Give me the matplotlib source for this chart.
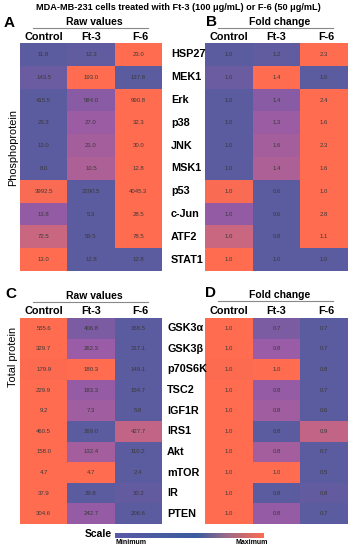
import matplotlib
matplotlib.use('Agg')
import matplotlib.pyplot as plt
import numpy as np
from matplotlib.colors import LinearSegmentedColormap

plt.rcParams['font.family'] = ['Liberation Sans', 'DejaVu Sans']

columns = ['Control', 'Ft-3', 'F-6']

phospho_labels = ['HSP27', 'MEK1', 'Erk', 'p38', 'JNK', 'MSK1', 'p53', 'c-Jun', 'ATF2', 'STAT1']
phospho_raw = [
    [11.8, 12.3, 23.0],
    [143.5, 193.0, 137.8],
    [415.5, 584.0, 990.8],
    [23.3, 27.0, 32.3],
    [13.0, 21.0, 30.0],
    [8.0, 10.5, 12.8],
    [3992.5, 2290.5, 4045.3],
    [13.8, 5.3, 28.5],
    [72.5, 59.5, 78.5],
    [13.0, 12.8, 12.8],
]
phospho_fold = [
    [1.0, 1.2, 2.3],
    [1.0, 1.4, 1.0],
    [1.0, 1.4, 2.4],
    [1.0, 1.3, 1.6],
    [1.0, 1.6, 2.3],
    [1.0, 1.4, 1.6],
    [1.0, 0.6, 1.0],
    [1.0, 0.6, 2.8],
    [1.0, 0.8, 1.1],
    [1.0, 1.0, 1.0],
]

total_labels = ['GSK3α', 'GSK3β', 'p70S6K', 'TSC2', 'IGF1R', 'IRS1', 'Akt', 'mTOR', 'IR', 'PTEN']
total_raw = [
    [555.6, 406.8, 368.5],
    [329.7, 262.3, 217.1],
    [179.9, 180.3, 149.1],
    [229.9, 183.3, 154.7],
    [9.2, 7.3, 5.8],
    [460.5, 369.0, 427.7],
    [158.0, 132.4, 110.2],
    [4.7, 4.7, 2.4],
    [37.9, 29.8, 30.2],
    [304.6, 242.7, 206.6],
]
total_fold = [
    [1.0, 0.7, 0.7],
    [1.0, 0.8, 0.7],
    [1.0, 1.0, 0.8],
    [1.0, 0.8, 0.7],
    [1.0, 0.8, 0.6],
    [1.0, 0.8, 0.9],
    [1.0, 0.8, 0.7],
    [1.0, 1.0, 0.5],
    [1.0, 0.8, 0.8],
    [1.0, 0.8, 0.7],
]

W, H = 350, 550
cell_cmap = LinearSegmentedColormap.from_list(
    'cells', [(0, '#5b5b9f'), (0.4, '#9a5ca6'), (0.68, '#c86681'), (1, '#ff6c4f')])
scale_cmap = LinearSegmentedColormap.from_list(
    'scale', [(0, '#5a5aa6'), (0.55, '#3a5c9e'), (0.75, '#9a6a8a'), (1, '#ff6c4f')])

fig = plt.figure(figsize=(W / 100, H / 100), dpi=100)


def px_axes(x0, y0, x1, y1):
    return fig.add_axes([x0 / W, 1 - y1 / H, (x1 - x0) / W, (y1 - y0) / H])


def ftext(x, y, s, **kw):
    fig.text(x / W, 1 - y / H, s, **kw)


def row_norm(raw):
    a = np.array(raw)
    lo = a.min(axis=1, keepdims=True)
    hi = a.max(axis=1, keepdims=True)
    return (a - lo) / np.where(hi > lo, hi - lo, 1)


def heatmap(box, raw, shown):
    ax = px_axes(*box)
    ax.imshow(row_norm(raw), cmap=cell_cmap, vmin=0, vmax=1, aspect='auto',
              interpolation='nearest')
    for i, row in enumerate(shown):
        for j, v in enumerate(row):
            ax.text(j, i, f'{v:.1f}', ha='center', va='center', fontsize=4.3,
                    color='#3a3a3a')
    ax.set_axis_off()
    return ax


def header(x0, x1, y_title, title, letter, lx, ly):
    ftext(lx, ly, letter, fontsize=11, fontweight='bold', ha='left', va='center')
    ftext((x0 + x1) / 2 + 4, y_title, title, fontsize=7.5, fontweight='bold',
          ha='center', va='center')
    fig.add_artist(plt.Line2D([x0 / W, x1 / W], [1 - (y_title + 6) / H] * 2,
                              color='#888888', lw=0.8))


top = (43, 271)
bot = (318, 524)
left_x = (20, 162)
right_x = (205, 348)

heatmap((left_x[0], top[0], left_x[1], top[1]), phospho_raw, phospho_raw)
heatmap((right_x[0], top[0], right_x[1], top[1]), phospho_raw, phospho_fold)
heatmap((left_x[0], bot[0], left_x[1], bot[1]), total_raw, total_raw)
heatmap((right_x[0], bot[0], right_x[1], bot[1]), total_raw, total_fold)

ftext(178, 8, 'MDA-MB-231 cells treated with Ft-3 (100 μg/mL) or F-6 (50 μg/mL)',
      fontsize=6.6, fontweight='bold', ha='center', va='center')

header(33, 148, 22, 'Raw values', 'A', 4, 23)
header(218, 333, 22, 'Fold change', 'B', 206, 22)
header(33, 148, 296, 'Raw values', 'C', 5, 294)
header(218, 333, 295, 'Fold change', 'D', 205, 293)

for (x0, x1), y in [(left_x, 37), (right_x, 37), (left_x, 311), (right_x, 311)]:
    cw = (x1 - x0) / 3
    for j, c in enumerate(columns):
        ftext(x0 + cw * (j + 0.5) + (2 if j == 2 else 0), y, c, fontsize=7.8,
              fontweight='bold', ha='center', va='center')

rh = (top[1] - top[0]) / len(phospho_labels)
for i, lab in enumerate(phospho_labels):
    ftext(171, top[0] + rh * (i + 0.5), lab, fontsize=7.8, fontweight='bold',
          ha='left', va='center')
rh = (bot[1] - bot[0]) / len(total_labels)
for i, lab in enumerate(total_labels):
    ftext(167, bot[0] + rh * (i + 0.5), lab, fontsize=7.8, fontweight='bold',
          ha='left', va='center')

ftext(13, 147, 'Phosphoprotein', fontsize=7.8, rotation=90, ha='center', va='center')
ftext(13, 357, 'Total protein', fontsize=7.8, rotation=90, ha='center', va='center')

# scale bar
sax = px_axes(115, 533, 264, 538)
sax.imshow(np.linspace(0, 1, 256)[None, :], cmap=scale_cmap, aspect='auto')
sax.set_axis_off()
ftext(98, 534, 'Scale', fontsize=7.5, fontweight='bold', ha='center', va='center')
ftext(115, 543, 'Minimum', fontsize=5, fontweight='bold', ha='left', va='center')
ftext(268, 543, 'Maximum', fontsize=5, fontweight='bold', ha='right', va='center')

fig.savefig('out.png', dpi=100)
